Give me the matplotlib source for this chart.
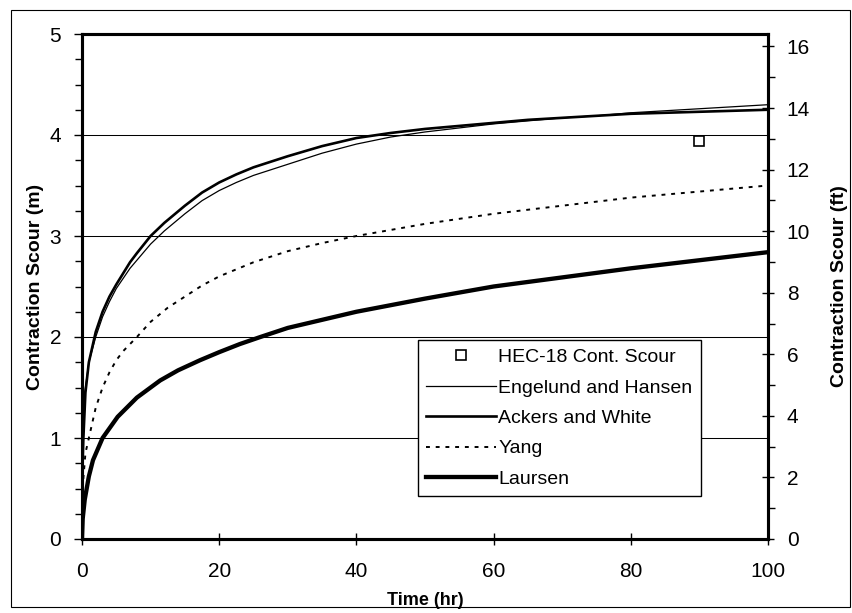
import matplotlib
matplotlib.use("Agg")
import matplotlib.pyplot as plt
from matplotlib.patches import Rectangle
from matplotlib.ticker import MultipleLocator
import numpy as np

plt.rcParams['font.family'] = ['Liberation Sans', 'DejaVu Sans']

# Scour development with time (hours) for each transport equation
t_eh = [0, 0.5, 1, 2, 3, 4, 5, 6, 7, 8, 10, 12, 15, 17.5, 20, 22.5, 25, 30,
        35, 40, 45, 50, 55, 60, 65, 70, 75, 80, 85, 90, 95, 100]
scour_eh = [1.3, 1.5, 1.75, 2.0, 2.2, 2.35, 2.48, 2.58, 2.68, 2.76, 2.92, 3.05,
            3.22, 3.35, 3.45, 3.53, 3.6, 3.71, 3.82, 3.91, 3.98, 4.03, 4.07,
            4.11, 4.14, 4.17, 4.19, 4.22, 4.24, 4.26, 4.28, 4.3]

t_aw = [0, 0.2, 0.5, 1, 2, 3, 4, 5, 6, 7, 8, 10, 12, 15, 17.5, 20, 22.5, 25,
        30, 35, 40, 45, 50, 55, 60, 65, 70, 75, 80, 85, 90, 95, 100]
scour_aw = [0.55, 1.0, 1.45, 1.75, 2.05, 2.25, 2.4, 2.52, 2.63, 2.74, 2.83,
            3.0, 3.13, 3.3, 3.43, 3.53, 3.61, 3.68, 3.79, 3.89, 3.97, 4.02,
            4.06, 4.09, 4.12, 4.15, 4.17, 4.19, 4.21, 4.22, 4.23, 4.24, 4.25]

t_yang = [0, 0.2, 0.5, 1, 2, 3, 4, 5, 6, 8, 10, 12.5, 15, 17.5, 20, 25, 30,
          35, 40, 50, 60, 70, 80, 90, 100]
scour_yang = [0.5, 0.6, 0.85, 1.0, 1.3, 1.5, 1.65, 1.77, 1.86, 2.0, 2.15, 2.29,
              2.4, 2.51, 2.6, 2.74, 2.85, 2.93, 3.0, 3.12, 3.22, 3.3, 3.38,
              3.44, 3.5]

t_laursen = [0, 0.1, 0.4, 1, 1.6, 3, 5.2, 8, 11.4, 14, 17.2, 20, 23, 26, 30,
             35, 40, 50, 60, 70, 80, 90, 100]
scour_laursen = [0.0, 0.2, 0.39, 0.62, 0.78, 1.0, 1.21, 1.4, 1.57, 1.67, 1.77,
                 1.85, 1.93, 2.0, 2.09, 2.17, 2.25, 2.38, 2.5, 2.59, 2.68,
                 2.76, 2.84]

# HEC-18 contraction scour estimate
t_hec = [90]
scour_hec = [3.94]

M_TO_FT = 3.28084

fig = plt.figure(figsize=(8.53, 6.13), dpi=100)
ax = fig.add_axes([82 / 853, 74 / 613, 686 / 853, 505 / 613])

ax.plot(t_hec, scour_hec, linestyle='none', marker='s', ms=7, mfc='white',
        mec='black', mew=1.2, label='HEC-18 Cont. Scour', zorder=5)
ax.plot(t_eh, scour_eh, color='black', lw=0.9, label='Engelund and Hansen')
ax.plot(t_aw, scour_aw, color='black', lw=1.9, label='Ackers and White')
ax.plot(t_yang, scour_yang, color='black', lw=1.4, linestyle=(0, (2, 3)),
        label='Yang')
ax.plot(t_laursen, scour_laursen, color='black', lw=3.1, label='Laursen')

ax.set_xlim(0, 100)
ax.set_ylim(0, 5)
ax.xaxis.set_major_locator(MultipleLocator(20))
ax.yaxis.set_major_locator(MultipleLocator(1))
ax.yaxis.set_minor_locator(MultipleLocator(0.25))
for y in [1, 2, 3, 4]:
    ax.axhline(y, color='black', lw=0.75, zorder=0)

for s in ax.spines.values():
    s.set_linewidth(2.2)

ax.tick_params(axis='x', direction='inout', length=9, width=1, labelsize=15,
               pad=12)
ax.tick_params(axis='y', which='major', direction='out', length=6, width=1,
               labelsize=15, pad=9)
ax.tick_params(axis='y', which='minor', direction='out', length=5, width=1)

ax.set_xlabel('Time (hr)', fontsize=13, fontweight='bold', labelpad=8)
ax.set_ylabel('Contraction Scour (m)', fontsize=14, fontweight='bold',
              labelpad=4)

ax2 = ax.twinx()
ax2.set_ylim(0, 5 * M_TO_FT)
ax2.yaxis.set_major_locator(MultipleLocator(2))
ax2.yaxis.set_minor_locator(MultipleLocator(1))
ax2.tick_params(axis='y', which='major', direction='inout', length=9, width=1,
                labelsize=15, pad=9)
ax2.tick_params(axis='y', which='minor', direction='out', length=5, width=1)
for s in ax2.spines.values():
    s.set_linewidth(2.2)
ax2.set_ylabel('Contraction Scour (ft)', fontsize=14, fontweight='bold',
               labelpad=15)

leg = ax.legend(loc='lower left', bbox_to_anchor=(0.49, 0.085), fontsize=14,
                frameon=True, fancybox=False, shadow=False, framealpha=1,
                edgecolor='black', handlelength=3.6, handletextpad=0.1,
                labelspacing=0.66, borderpad=0.42, borderaxespad=0)
leg.get_frame().set_linewidth(1.0)

fig.patches.append(Rectangle((11 / 853, 6 / 613), 839 / 853, 597 / 613,
                             transform=fig.transFigure, fill=False,
                             edgecolor='black', lw=0.8))

fig.savefig('out.png', dpi=100)
